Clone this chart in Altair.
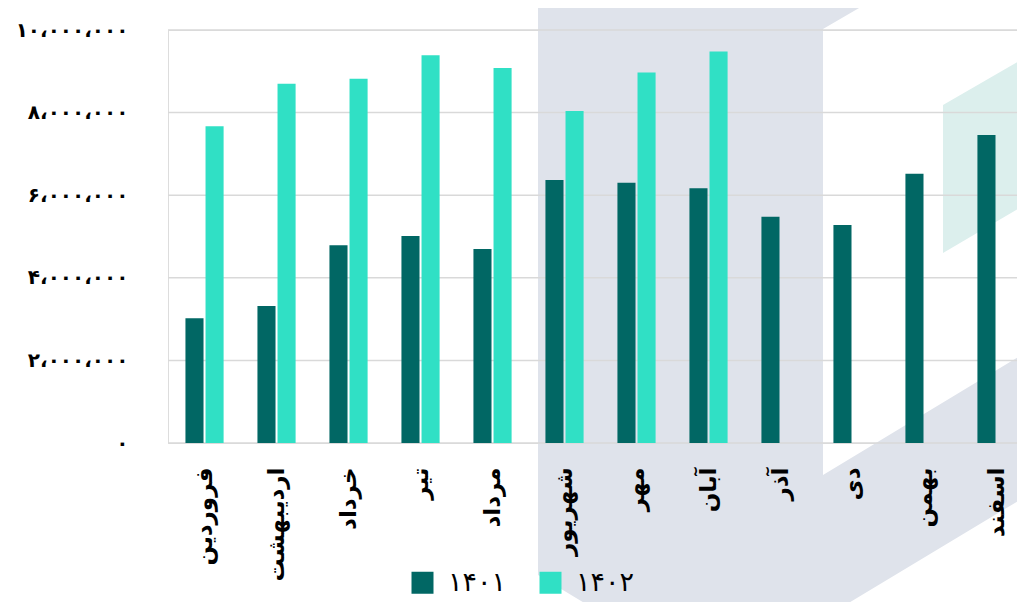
import altair as alt
import pandas as pd

months = ["فروردین", "اردیبهشت", "خرداد", "تیر", "مرداد", "شهریور",
          "مهر", "آبان", "آذر", "دی", "بهمن", "اسفند"]
years = ["۱۴۰۱", "۱۴۰۲"]
values_1401 = [3020000, 3320000, 4790000, 5010000, 4700000, 6370000,
               6300000, 6170000, 5480000, 5280000, 6520000, 7460000]
values_1402 = [7670000, 8700000, 8820000, 9390000, 9080000, 8040000,
               8970000, 9480000]
y_ticks = [0, 2000000, 4000000, 6000000, 8000000, 10000000]
y_tick_labels = ["۰", "۲،۰۰۰،۰۰۰", "۴،۰۰۰،۰۰۰", "۶،۰۰۰،۰۰۰", "۸،۰۰۰،۰۰۰", "۱۰،۰۰۰،۰۰۰"]
colors = ["#016764", "#30e0c5"]

rows = []
for m, v in zip(months, values_1401):
    rows.append({"month": m, "year": years[0], "value": v})
for m, v in zip(months, values_1402):
    rows.append({"month": m, "year": years[1], "value": v})
df = pd.DataFrame(rows)

label_expr = "''"
for val, lab in reversed(list(zip(y_ticks, y_tick_labels))):
    label_expr = f"datum.value == {val} ? '{lab}' : ({label_expr})"

W, H = 849, 413
FONT = "DejaVu Sans"

# decorative background shapes (plot-relative pixel paths)
grey_path = "M370,-40 L722,-40 L655,-1 L655,445 L870,315 L870,459 L669,580 L428,580 L370,545 Z"
green_path = "M775,75 L870,20 L870,167 L775,223 Z"
one = pd.DataFrame({"k": [0]})

bg_grey = alt.Chart(one).mark_point(
    shape=grey_path, size=4, filled=True, fill="#dfe3eb", opacity=1, strokeWidth=0
).encode(x=alt.value(0), y=alt.value(0))
bg_green = alt.Chart(one).mark_point(
    shape=green_path, size=4, filled=True, fill="#dcefed", opacity=1, strokeWidth=0
).encode(x=alt.value(0), y=alt.value(0))

grid = alt.Chart(pd.DataFrame({"t": y_ticks})).mark_rule(
    color="#d9d9d9", strokeWidth=1.5
).encode(y=alt.Y("t:Q", scale=alt.Scale(domain=[0, 10000000], nice=False)))

bars = alt.Chart(df).mark_bar().encode(
    x=alt.X("month:N", sort=months, title=None,
            scale=alt.Scale(paddingInner=0.47, paddingOuter=0.131, align=0.925),
            axis=alt.Axis(labelAngle=270, labelFont=FONT, labelFontSize=23,
                          labelFontWeight="bold", labelColor="#000000", zindex=2,
                          ticks=False, tickSize=0, domain=False, labelPadding=24)),
    xOffset=alt.XOffset("year:N", sort=years,
                        scale=alt.Scale(domain=years, paddingInner=0.1)),
    y=alt.Y("value:Q", title=None,
            scale=alt.Scale(domain=[0, 10000000], nice=False),
            axis=alt.Axis(values=y_ticks, labelExpr=label_expr, grid=False, zindex=2,
                          ticks=False, tickSize=0, domain=False, labelPadding=40,
                          labelFont=FONT, labelFontSize=20, labelFontWeight="bold",
                          labelColor="#000000")),
    color=alt.Color("year:N", scale=alt.Scale(domain=years, range=colors),
                    legend=alt.Legend(title=None, orient="none", legendX=241, legendY=539,
                                      direction="horizontal", symbolType="square",
                                      symbolSize=484, symbolStrokeWidth=0,
                                      labelFont=FONT, labelFontSize=27,
                                      labelColor="#000000", labelOffset=12,
                                      columnPadding=30)),
)

chart = alt.layer(bg_grey, bg_green, grid, bars).properties(
    width=W, height=H,
    autosize=alt.AutoSizeParams(type="none"),
    padding={"left": 160, "top": 22, "right": 0, "bottom": 159},
).configure_view(strokeWidth=0).configure(background="#ffffff")

chart.save("out.html", embed_options={"renderer": "svg", "actions": False})
